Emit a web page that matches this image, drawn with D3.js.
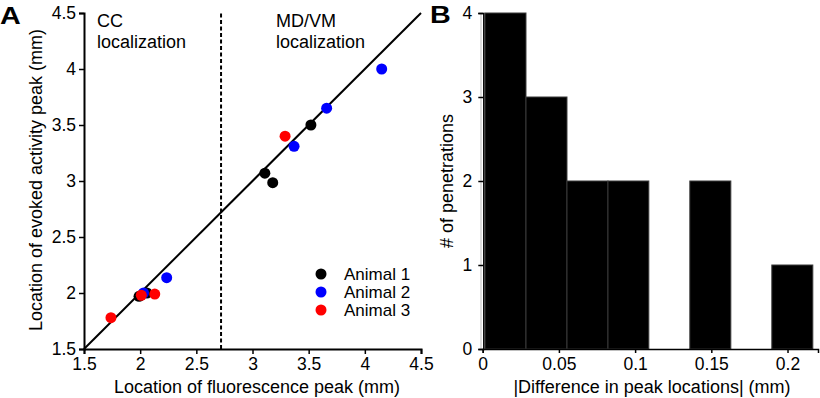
<!DOCTYPE html>
<html>
<head>
<meta charset="utf-8">
<script src="https://cdn.jsdelivr.net/npm/d3@7"></script>
<style>
  body { margin: 0; background: #fff; }
  svg { display: block; font-family: "Liberation Sans", Arial, sans-serif; }
  .axis path, .axis line { stroke: #000; }
  .axis text { fill: #000; }
</style>
</head>
<body>
<div id="chart"></div>
<script>
// panel A: fluorescence peak vs evoked activity peak (mm)
var animal1X = [1.99, 2.06, 3.11, 3.18, 3.52];
var animal1Y = [1.97, 2.00, 3.07, 2.985, 3.50];
var animal2X = [2.03, 2.236, 3.37, 3.66, 4.15];
var animal2Y = [2.00, 2.137, 3.31, 3.65, 4.00];
var animal3X = [1.74, 2.01, 2.13, 3.29];
var animal3Y = [1.78, 1.98, 1.99, 3.40];
var animalNames = ["Animal 1", "Animal 2", "Animal 3"];
var animalColors = ["#000000", "#0000ff", "#ff0000"];
var boundaryX = 2.72;
var ticksA = [1.5, 2, 2.5, 3, 3.5, 4, 4.5];

// panel B: histogram of |difference in peak locations|
var binEdges = [0.0015, 0.0284, 0.0553, 0.0822, 0.1090, 0.1359, 0.1628, 0.1897, 0.2166];
var binCounts = [4, 3, 2, 2, 0, 2, 0, 1];
var ticksBx = [0, 0.05, 0.1, 0.15, 0.2];
var ticksBy = [0, 1, 2, 3, 4];

var svg = d3.select("#chart").append("svg")
    .attr("width", 820)
    .attr("height", 398);

svg.append("rect").attr("width", 820).attr("height", 398).attr("fill", "#fff");

// ---------- Panel A ----------
var xA = d3.scaleLinear().domain([1.5, 4.5]).range([84, 421]);
var yA = d3.scaleLinear().domain([1.5, 4.5]).range([349, 13]);

var gxA = svg.append("g")
    .attr("class", "axis")
    .attr("transform", "translate(0,349)")
    .call(d3.axisBottom(xA).tickValues(ticksA).tickSizeOuter(0).tickSize(5).tickPadding(4)
        .tickFormat(d3.format("")));
gxA.selectAll("text").style("font-size", "17.5px");

var gyA = svg.append("g")
    .attr("class", "axis")
    .attr("transform", "translate(84,0)")
    .call(d3.axisLeft(yA).tickValues(ticksA).tickSizeOuter(0).tickSize(5).tickPadding(3)
        .tickFormat(d3.format("")));
gyA.selectAll("text").style("font-size", "17.5px");
svg.selectAll(".axis path").attr("stroke-width", 2);
svg.selectAll(".axis line").attr("stroke-width", 1.5);

// unity line
svg.append("line")
    .attr("x1", xA(1.5)).attr("y1", yA(1.5))
    .attr("x2", xA(4.5)).attr("y2", yA(4.5))
    .attr("stroke", "#000").attr("stroke-width", 2);

// CC / MD-VM boundary
svg.append("line")
    .attr("x1", xA(boundaryX)).attr("y1", yA(1.5))
    .attr("x2", xA(boundaryX)).attr("y2", yA(4.5))
    .attr("stroke", "#000").attr("stroke-width", 2)
    .attr("stroke-dasharray", "4,2.5");

var region = svg.append("g").style("font-size", "18px");
region.append("text").attr("x", 97).attr("y", 27).text("CC");
region.append("text").attr("x", 97).attr("y", 48).text("localization");
region.append("text").attr("x", 276).attr("y", 27).text("MD/VM");
region.append("text").attr("x", 276).attr("y", 48).text("localization");

// points
var series = [[animal1X, animal1Y], [animal2X, animal2Y], [animal3X, animal3Y]];
series.forEach(function (s, i) {
    svg.append("g").selectAll("circle")
        .data(s[0])
        .enter()
        .append("circle")
        .attr("cx", function (d) { return xA(d); })
        .attr("cy", function (d, j) { return yA(s[1][j]); })
        .attr("r", 5.5)
        .attr("fill", animalColors[i]);
});

// legend
var legend = svg.append("g").selectAll("g")
    .data(animalNames)
    .enter()
    .append("g")
    .attr("transform", function (d, i) { return "translate(321," + (274 + i * 18) + ")"; });
legend.append("circle").attr("r", 5.5).attr("fill", function (d, i) { return animalColors[i]; });
legend.append("text").attr("x", 23).attr("y", 6).style("font-size", "17px").text(function (d) { return d; });

svg.append("text")
    .attr("x", 257).attr("y", 393)
    .style("text-anchor", "middle").style("font-size", "18px")
    .text("Location of fluorescence peak (mm)");

svg.append("text")
    .attr("transform", "translate(42,180) rotate(-90)")
    .style("text-anchor", "middle").style("font-size", "18px")
    .text("Location of evoked activity peak (mm)");

svg.append("text")
    .attr("transform", "translate(0,24) scale(1.25,1)")
    .style("font-size", "23px").style("font-weight", "bold")
    .text("A");

// ---------- Panel B ----------
var xB = d3.scaleLinear().domain([0, 0.22]).range([482.7, 818]);
var yB = d3.scaleLinear().domain([0, 4]).range([349, 13]);

svg.append("g").selectAll("rect")
    .data(binCounts)
    .enter()
    .append("rect")
    .attr("x", function (d, i) { return xB(binEdges[i]); })
    .attr("y", function (d) { return yB(d); })
    .attr("width", function (d, i) { return xB(binEdges[i + 1]) - xB(binEdges[i]); })
    .attr("height", function (d) { return yB(0) - yB(d); })
    .attr("fill", "#000")
    .attr("stroke", function (d) { return d > 0 ? "#3a3a3a" : "none"; })
    .attr("stroke-width", 1);

// faint double edge left of the y axis
svg.append("line")
    .attr("x1", 481).attr("y1", yB(4)).attr("x2", 481).attr("y2", yB(0))
    .attr("stroke", "#bbb").attr("stroke-width", 1);

var gxB = svg.append("g")
    .attr("class", "axis")
    .attr("transform", "translate(0,349)")
    .call(d3.axisBottom(xB).tickValues(ticksBx).tickSizeOuter(0).tickSize(4).tickPadding(5)
        .tickFormat(d3.format("")));
gxB.selectAll("text").style("font-size", "17.5px");

var gyB = svg.append("g")
    .attr("class", "axis")
    .attr("transform", "translate(483.3,0)")
    .call(d3.axisLeft(yB).tickValues(ticksBy).tickSizeOuter(0).tickSize(5).tickPadding(6)
        .tickFormat(d3.format("d")));
gyB.selectAll("text").style("font-size", "17.5px");
gxB.select("path").attr("stroke-width", 1.5);
gyB.select("path").attr("stroke-width", 1.5);
gxB.selectAll("line").attr("stroke-width", 1.5);
gyB.selectAll("line").attr("stroke-width", 1.5);

svg.append("text")
    .attr("x", 652).attr("y", 393)
    .style("text-anchor", "middle").style("font-size", "18px")
    .text("|Difference in peak locations| (mm)");

svg.append("text")
    .attr("transform", "translate(453,181) rotate(-90)")
    .style("text-anchor", "middle").style("font-size", "18px")
    .text("# of penetrations");

svg.append("text")
    .attr("transform", "translate(430,23) scale(1.25,1)")
    .style("font-size", "23px").style("font-weight", "bold")
    .text("B");
</script>
</body>
</html>
